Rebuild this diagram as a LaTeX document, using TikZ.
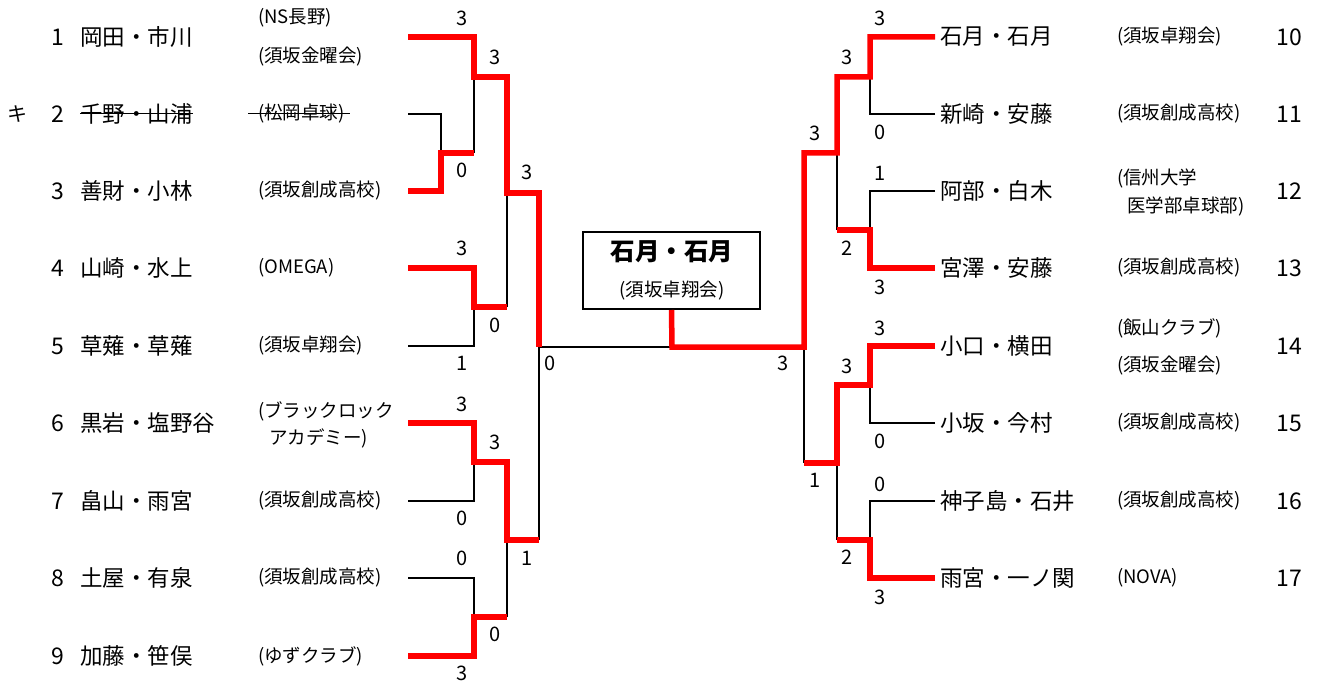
\documentclass[tikz,border=0pt]{standalone}
\usepackage{fontspec}
\setmainfont{Noto Sans CJK JP}
\begin{document}
\begin{tikzpicture}[x=1pt,y=-1pt]
\tikzset{
 lose/.style={draw=black, line width=2pt},
 win/.style={draw=red, line width=5.5pt, line join=miter},
 nm/.style={anchor=west, inner sep=0pt, font=\fontsize{22.5}{24}\selectfont},
 af/.style={anchor=west, inner sep=0pt, font=\fontsize{18.5}{20}\selectfont},
 sc/.style={inner sep=0pt, font=\fontsize{20}{22}\selectfont},
 num/.style={inner sep=0pt, font=\fontsize{23}{25}\selectfont},
 numr/.style={num, anchor=east},
 strike/.style={draw=black, line width=1pt},
}
\useasboundingbox (0,0) rectangle (1318,682);
% ---------- left players ----------
\node[num] (n1) at (58,37) {1};
\node[num] (n2) at (58,114) {2};
\node[num] (n3) at (58,191) {3};
\node[num] (n4) at (58,268) {4};
\node[num] (n5) at (58,346) {5};
\node[num] (n6) at (58,423) {6};
\node[num] (n7) at (58,501) {7};
\node[num] (n8) at (58,578) {8};
\node[num] (n9) at (58,656) {9};
\node[sc] (ki) at (17,114) {キ};
\node[nm] (p1) at (80,37) {岡田・市川};
\node[nm] (p2) at (80,114) {千野・山浦};
\node[nm] (p3) at (80,191) {善財・小林};
\node[nm] (p4) at (80,268) {山崎・水上};
\node[nm] (p5) at (80,346) {草薙・草薙};
\node[nm] (p6) at (80,423) {黒岩・塩野谷};
\node[nm] (p7) at (80,501) {畠山・雨宮};
\node[nm] (p8) at (80,578) {土屋・有泉};
\node[nm] (p9) at (80,656) {加藤・笹俣};
\node[af] (a1a) at (258,18) {(NS長野)};
\node[af] (a1b) at (258,57) {(須坂金曜会)};
\node[af] (a2) at (258,114) {(松岡卓球)};
\node[af] (a3) at (258,191) {(須坂創成高校)};
\node[af] (a4) at (258,268) {(OMEGA)};
\node[af] (a5) at (258,346) {(須坂卓翔会)};
\node[af] (a6a) at (258,411) {(ブラックロック};
\node[af] (a6b) at (269,438) {アカデミー)};
\node[af] (a7) at (258,501) {(須坂創成高校)};
\node[af] (a8) at (258,578) {(須坂創成高校)};
\node[af] (a9) at (258,656) {(ゆずクラブ)};
\draw[strike] (p2.west) -- (p2.east);
\draw[strike] ([xshift=-10pt]a2.west) -- ([xshift=5pt]a2.east);
% ---------- right players ----------
\node[nm] (q10) at (940,37) {石月・石月};
\node[nm] (q11) at (940,114) {新崎・安藤};
\node[nm] (q12) at (940,191) {阿部・白木};
\node[nm] (q13) at (940,268) {宮澤・安藤};
\node[nm] (q14) at (940,346) {小口・横田};
\node[nm] (q15) at (940,423) {小坂・今村};
\node[nm] (q16) at (940,501) {神子島・石井};
\node[nm] (q17) at (940,578) {雨宮・一ノ関};
\node[af] (b10) at (1117,37) {(須坂卓翔会)};
\node[af] (b11) at (1117,114) {(須坂創成高校)};
\node[af] (b12a) at (1117,178) {(信州大学};
\node[af] (b12b) at (1127,206) {医学部卓球部)};
\node[af] (b13) at (1117,268) {(須坂創成高校)};
\node[af] (b14a) at (1117,328) {(飯山クラブ)};
\node[af] (b14b) at (1117,366) {(須坂金曜会)};
\node[af] (b15) at (1117,423) {(須坂創成高校)};
\node[af] (b16) at (1117,501) {(須坂創成高校)};
\node[af] (b17) at (1117,578) {(NOVA)};
\node[numr] (m10) at (1302,37) {10};
\node[numr] (m11) at (1302,114) {11};
\node[numr] (m12) at (1302,191) {12};
\node[numr] (m13) at (1302,268) {13};
\node[numr] (m14) at (1302,346) {14};
\node[numr] (m15) at (1302,423) {15};
\node[numr] (m16) at (1302,501) {16};
\node[numr] (m17) at (1302,578) {17};
% ---------- champion box ----------
\node[draw=black, line width=2pt, minimum width=177pt, minimum height=77pt, inner sep=0pt] (champ) at (671.5,270.5) {};
\node[inner sep=0pt, font=\fontsize{24.5}{26}\selectfont\bfseries] (cn) at (672,252) {石月・石月};
\node[inner sep=0pt, font=\fontsize{18.5}{20}\selectfont] (ca) at (672,291) {(須坂卓翔会)};
% ---------- coordinates ----------
\coordinate (L1) at (408,37);  \coordinate (L2) at (408,114);
\coordinate (L3) at (408,191); \coordinate (L4) at (408,268);
\coordinate (L5) at (408,346); \coordinate (L6) at (408,423);
\coordinate (L7) at (408,501); \coordinate (L8) at (408,578);
\coordinate (L9) at (408,656);
\coordinate (R10) at (935,37);  \coordinate (R11) at (935,114);
\coordinate (R12) at (935,191); \coordinate (R13) at (935,268);
\coordinate (R14) at (935,346); \coordinate (R15) at (935,423);
\coordinate (R16) at (935,501); \coordinate (R17) at (935,578);
\coordinate (a23) at (441,153);
\coordinate (b23) at (474,153);
\coordinate (b1) at (474,77);   \coordinate (c1) at (507,77);
\coordinate (b45) at (474,307); \coordinate (c45) at (507,307);
\coordinate (cA) at (507,193);  \coordinate (dA) at (539,193);
\coordinate (b67) at (474,462); \coordinate (c67) at (507,462);
\coordinate (b89) at (474,617); \coordinate (c89) at (507,617);
\coordinate (cB) at (507,540);  \coordinate (dB) at (539,540);
\coordinate (dF) at (539,347);  \coordinate (fC) at (672,347);
\coordinate (eF) at (804,347);
\coordinate (r1011) at (870,77);  \coordinate (s1) at (837,77);
\coordinate (r1213) at (870,230); \coordinate (s1213) at (837,230);
\coordinate (sC) at (837,153);    \coordinate (tC) at (804,153);
\coordinate (r1415) at (870,385); \coordinate (s1415) at (837,385);
\coordinate (r1617) at (870,540); \coordinate (s1617) at (837,540);
\coordinate (sD) at (837,463);    \coordinate (tD) at (804,463);
% ---------- black skeleton ----------
\draw[lose] (L2) -| (a23);
\draw[lose] (b1) -- (b23);
\draw[lose] (L5) -| (b45);
\draw[lose] (c45) -- (cA);
\draw[lose] (L7) -| (b67);
\draw[lose] (L8) -| (b89);
\draw[lose] (c89) -- (cB);
\draw[lose] (dB) -- (dF) -- (fC);
\draw[lose] (R11) -| (r1011);
\draw[lose] (R12) -| (r1213);
\draw[lose] (s1213) -- (sC);
\draw[lose] (eF) -- (tD);
\draw[lose] (R15) -| (r1415);
\draw[lose] (R16) -| (r1617);
\draw[lose] (s1617) -- (sD);
% ---------- red winners ----------
\draw[win] (L3) -| (a23) -- (b23);
\draw[win] (L1) -| (b1) -- (c1) -- (cA) -- (dA) -- (dF);
\draw[win] (L4) -| (b45) -- (c45);
\draw[win] (L6) -| (b67) -- (c67) -- (cB) -- (dB);
\draw[win] (L9) -| (b89) -- (c89);
\draw[win] (R10) -| (r1011) -- (s1) -- (sC) -- (tC) -- (eF) -- (fC) -- (champ.south);
\draw[win] (R13) -| (r1213) -- (s1213);
\draw[win] (R14) -| (r1415) -- (s1415) -- (sD) -- (tD);
\draw[win] (R17) -| (r1617) -- (s1617);
% ---------- scores ----------
\node[sc] (s01) at (462,18) {3};
\node[sc] (s02) at (495,57) {3};
\node[sc] (s03) at (462,170) {0};
\node[sc] (s04) at (527,172) {3};
\node[sc] (s05) at (462,248) {3};
\node[sc] (s06) at (495,325) {0};
\node[sc] (s07) at (462,363) {1};
\node[sc] (s08) at (550,363) {0};
\node[sc] (s09) at (462,404) {3};
\node[sc] (s10) at (495,442) {3};
\node[sc] (s11) at (462,518) {0};
\node[sc] (s12) at (462,558) {0};
\node[sc] (s13) at (527,558) {1};
\node[sc] (s14) at (495,634) {0};
\node[sc] (s15) at (462,673) {3};
\node[sc] (t01) at (880,18) {3};
\node[sc] (t02) at (847,57) {3};
\node[sc] (t03) at (880,132) {0};
\node[sc] (t04) at (815,133) {3};
\node[sc] (t05) at (880,173) {1};
\node[sc] (t06) at (847,248) {2};
\node[sc] (t07) at (880,287) {3};
\node[sc] (t08) at (783,363) {3};
\node[sc] (t09) at (880,328) {3};
\node[sc] (t10) at (847,366) {3};
\node[sc] (t11) at (880,441) {0};
\node[sc] (t12) at (815,480) {1};
\node[sc] (t13) at (880,484) {0};
\node[sc] (t14) at (847,557) {2};
\node[sc] (t15) at (880,597) {3};
\end{tikzpicture}
\end{document}
